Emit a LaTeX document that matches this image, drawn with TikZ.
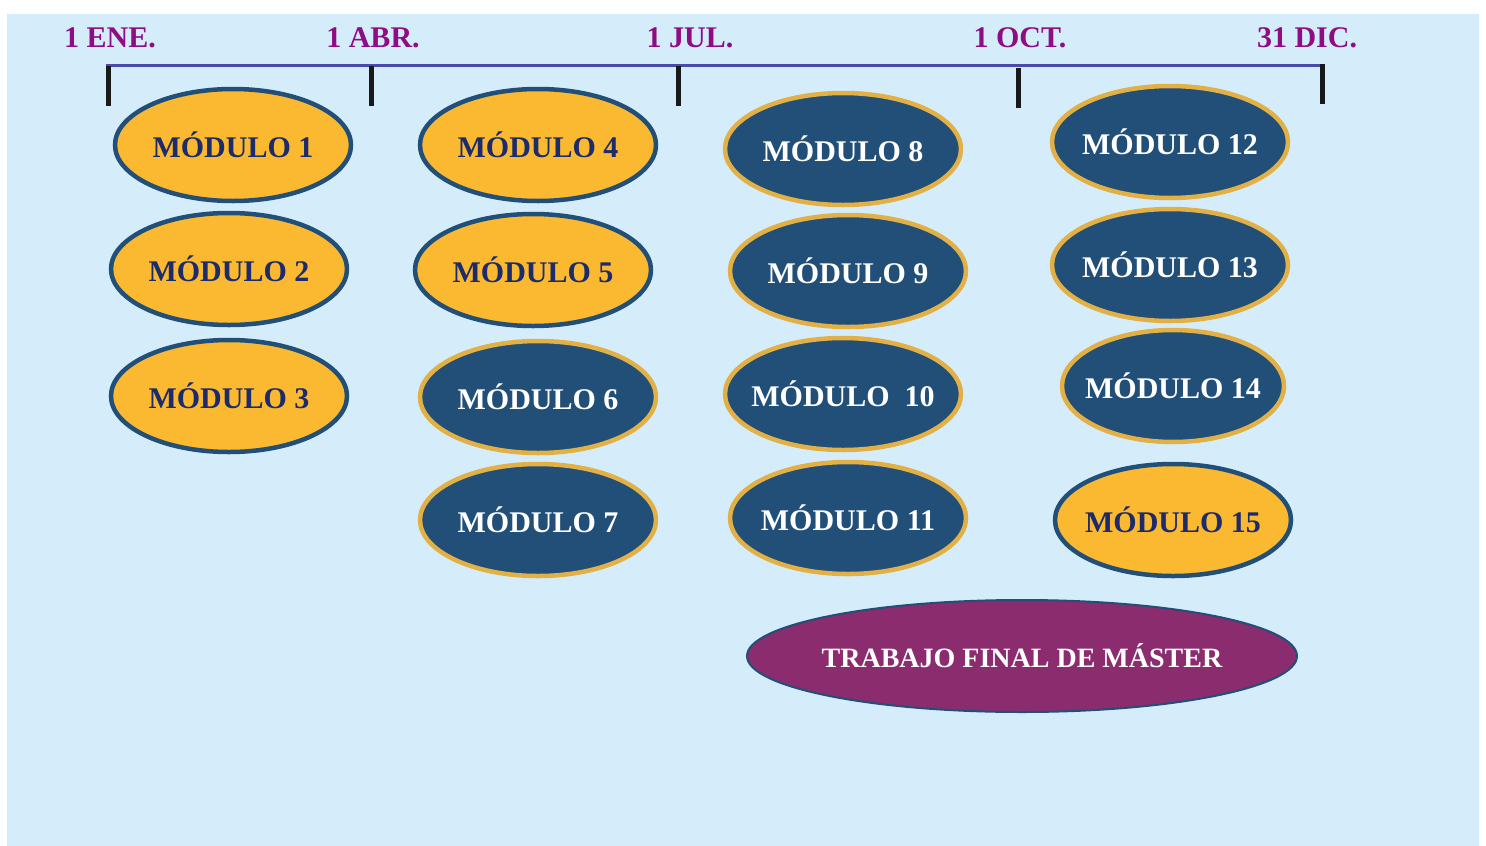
\documentclass[tikz,border=0pt]{standalone}
\usepackage{fontspec}
\setmainfont{Liberation Serif}
\usetikzlibrary{shapes.geometric}
\definecolor{bgblue}{HTML}{D5EDFA}
\definecolor{modorange}{HTML}{FBB931}
\definecolor{modblue}{HTML}{214F78}
\definecolor{modgold}{HTML}{E2B045}
\definecolor{navytext}{HTML}{1C2B6B}
\definecolor{datepurple}{HTML}{8E0C84}
\definecolor{lineblue}{HTML}{4A4AAA}
\definecolor{tfmfill}{HTML}{8A2C6E}
\tikzset{
  x=1pt, y=-1pt,
  modbase/.style={ellipse, minimum width=236pt, minimum height=112pt, inner xsep=-30pt, inner ysep=0pt, line width=4.5pt, font=\fontsize{30}{30}\selectfont\bfseries},
  modorng/.style={modbase, fill=modorange, draw=modblue, text=navytext},
  moddark/.style={modbase, fill=modblue, draw=modgold, text=white},
  datelbl/.style={font=\fontsize{30}{30}\selectfont\bfseries, text=datepurple, inner sep=0pt},
  tick/.style={line width=5pt, draw=black!90},
  tfm/.style={ellipse, minimum width=550pt, minimum height=112pt, inner xsep=-60pt, inner ysep=0pt, line width=2pt, fill=tfmfill, draw=modblue, text=white, font=\fontsize{28}{28}\selectfont\bfseries}
}
\begin{document}
\begin{tikzpicture}
\useasboundingbox (0,0) rectangle (1486,846);
\fill[white] (0,0) rectangle (1486,846);
\fill[bgblue] (7,14) rectangle (1479,846);
% dates
\node[datelbl] (d1) at (110,38) {1 ENE.};
\node[datelbl] (d2) at (373,38) {1 ABR.};
\node[datelbl] (d3) at (690,38) {1 JUL.};
\node[datelbl] (d4) at (1020,38) {1 OCT.};
\node[datelbl] (d5) at (1307,38) {31 DIC.};
% timeline
\coordinate (t0) at (106,65);
\coordinate (t5) at (1322,65);
\draw[line width=3pt, lineblue] (t0) -- (t5);
\coordinate (k1a) at (108,66); \coordinate (k1b) at (108,106);
\coordinate (k2a) at (371,66); \coordinate (k2b) at (371,106);
\coordinate (k3a) at (678,66); \coordinate (k3b) at (678,106);
\coordinate (k4a) at (1018,68); \coordinate (k4b) at (1018,108);
\coordinate (k5a) at (1322,64); \coordinate (k5b) at (1322,104);
\draw[tick] (k1a) -- (k1b);
\draw[tick] (k2a) -- (k2b);
\draw[tick] (k3a) -- (k3b);
\draw[tick] (k4a) -- (k4b);
\draw[tick] (k5a) -- (k5b);
% modules
\node[modorng] (m1) at (233,145) {MÓDULO 1};
\node[modorng] (m2) at (229,269) {MÓDULO 2};
\node[modorng] (m3) at (229,396) {MÓDULO 3};
\node[modorng] (m4) at (538,145) {MÓDULO 4};
\node[modorng] (m5) at (533,270) {MÓDULO 5};
\node[moddark] (m6) at (538,397) {MÓDULO 6};
\node[moddark] (m7) at (538,520) {MÓDULO 7};
\node[moddark] (m8) at (843,149) {MÓDULO 8};
\node[moddark] (m9) at (848,271) {MÓDULO 9};
\node[moddark] (m10) at (843,394) {MÓDULO\ \ 10};
\node[moddark] (m11) at (848,518) {MÓDULO 11};
\node[moddark] (m12) at (1170,142) {MÓDULO 12};
\node[moddark] (m13) at (1170,265) {MÓDULO 13};
\node[moddark, minimum width=222pt] (m14) at (1173,386) {MÓDULO 14};
\node[modorng] (m15) at (1173,520) {MÓDULO 15};
\node[tfm] (tfm) at (1022,656) {TRABAJO FINAL DE MÁSTER};
\end{tikzpicture}
\end{document}
